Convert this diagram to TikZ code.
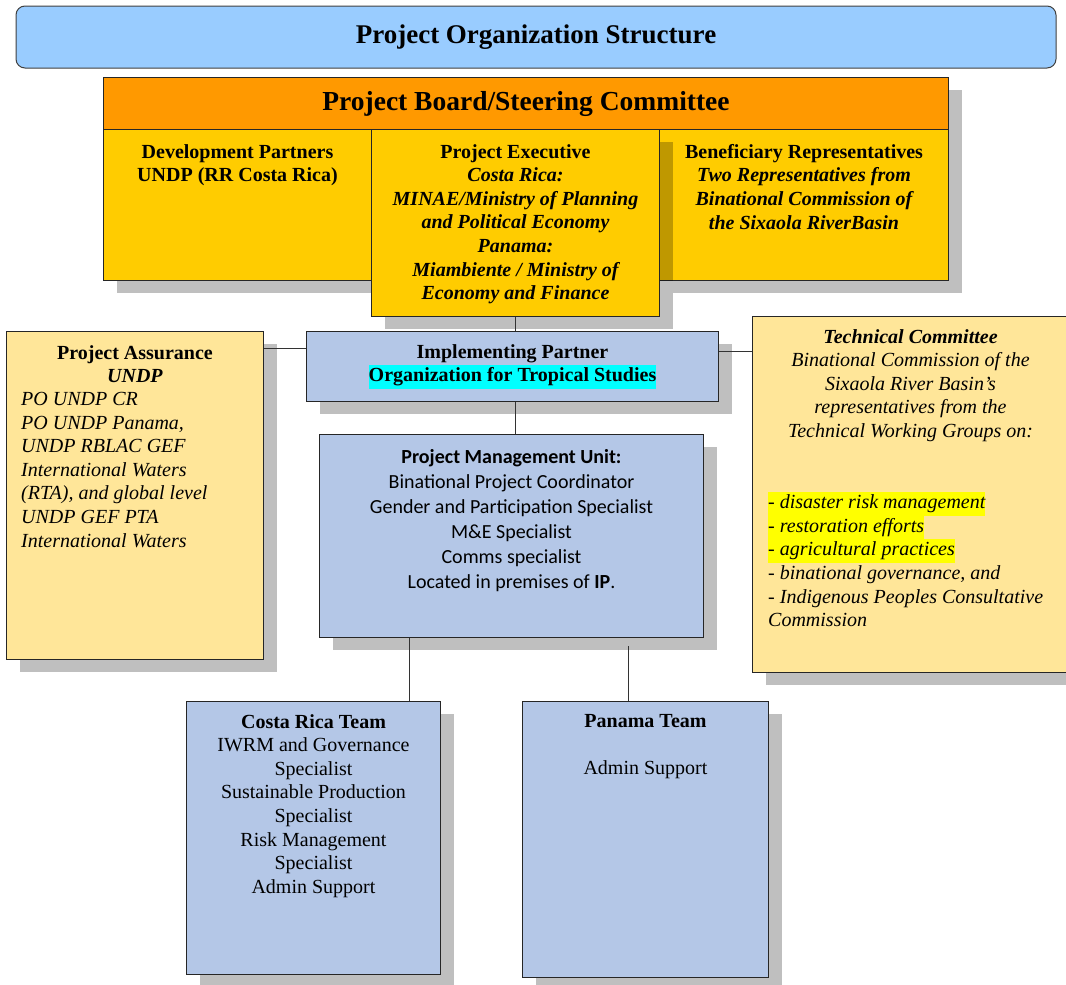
\documentclass[tikz,border=0pt]{standalone}
\usepackage{fontspec}
\setmainfont{Liberation Serif}
\newfontfamily\pmufont{Carlito}
\usetikzlibrary{positioning, shadows}

\definecolor{titleblue}{HTML}{99CCFF}
\definecolor{boardorange}{HTML}{FF9900}
\definecolor{boardyellow}{HTML}{FFCC00}
\definecolor{paleyellow}{HTML}{FFE699}
\definecolor{unitblue}{HTML}{B4C7E7}
\definecolor{hlcyan}{HTML}{00FFFF}
\definecolor{hlyellow}{HTML}{FFFF00}

\newcommand{\bodysize}{\fontsize{20}{23.6}\selectfont}
\newcommand{\hlbox}[2]{{\setlength{\fboxsep}{0pt}\colorbox{#1}{\strut #2}}}

\begin{document}
\begin{tikzpicture}[x=1pt, y=-1pt,
    box/.style={draw=black!85, line width=1pt, inner sep=0pt, anchor=north west,
        drop shadow={fill=black, opacity=0.25, shadow xshift=13pt, shadow yshift=-12pt}},
    txt/.style={align=center, inner sep=0pt, font=\bodysize},
    link/.style={draw=black!80, line width=1pt}]

\useasboundingbox (0,0) rectangle (1066,985);

% title and board
\node[draw=black!75, line width=1pt, rounded corners=9pt, fill=titleblue,
    minimum width=1040, minimum height=62,
    font=\fontsize{27}{30}\selectfont\bfseries] (title) at (536,37) {Project Organization Structure};
\node[box, fill=boardorange, minimum width=845, minimum height=52,
    font=\fontsize{27.5}{30}\selectfont\bfseries] (board) at (103,77) {Project Board/Steering Committee};
\node[box, fill=boardyellow, minimum width=268, minimum height=151] (dev) at (103,129) {};
\node[box, fill=boardyellow, minimum width=289, minimum height=151] (benef) at (659,129) {};
\node[box, fill=boardyellow, minimum width=288, minimum height=187] (exec) at (371,129) {};

\node[txt, font=\bodysize\bfseries, below=15pt of dev.north] (devtxt) {
    Development Partners\\
    UNDP (RR Costa Rica)
};
\node[txt, font=\bodysize\bfseries\itshape, below=15pt of exec.north] (exectxt) {
    {\upshape Project Executive}\\
    Costa Rica:\\
    MINAE/Ministry of Planning\\
    and Political Economy\\
    Panama:\\
    Miambiente / Ministry of\\
    Economy and Finance
};
\node[txt, font=\bodysize\bfseries\itshape, below=15pt of benef.north] (beneftxt) {
    {\upshape Beneficiary Representatives}\\
    Two Representatives from\\
    Binational Commission of\\
    the Sixaola RiverBasin
};

% middle row
\node[box, fill=unitblue, minimum width=412, minimum height=70,
    align=center, font=\bodysize\bfseries] (ip) at (306,331) {
    Implementing Partner\\
    \hlbox{hlcyan}{Organization for Tropical Studies}
};
\node[box, fill=paleyellow, minimum width=257, minimum height=328] (pa) at (6,331) {};
\node[txt, font=\bodysize\bfseries, below=14pt of pa.north] (pahead) {
    Project Assurance\\
    \textit{UNDP}
};
\node[txt, align=left, font=\bodysize\itshape, anchor=north west] (palist)
    at ([xshift=15pt, yshift=-61pt]pa.north west) {
    PO UNDP CR\\
    PO UNDP Panama,\\
    UNDP RBLAC GEF\\
    International Waters\\
    (RTA), and global level\\
    UNDP GEF PTA\\
    International Waters
};
\node[box, fill=paleyellow, minimum width=316, minimum height=356] (tc) at (752,316) {};
\node[txt, font=\bodysize\itshape, below=13pt of tc.north] (tchead) {
    \textbf{Technical Committee}\\
    Binational Commission of the\\
    Sixaola River Basin's\\
    representatives from the\\
    Technical Working Groups on:
};
\node[txt, align=left, font=\bodysize\itshape, anchor=north west] (tclist)
    at ([xshift=16pt, yshift=-176pt]tc.north west) {
    \hlbox{hlyellow}{- disaster risk management}\\
    \hlbox{hlyellow}{- restoration efforts}\\
    \hlbox{hlyellow}{- agricultural practices}\\
    - binational governance, and\\
    - Indigenous Peoples Consultative\\
    Commission
};

% project management unit
\node[box, fill=unitblue, minimum width=384, minimum height=203] (pmu) at (319,434) {};
\node[txt, font=\pmufont\fontsize{20}{25}\selectfont, below=15pt of pmu.north] (pmutxt) {
    \textbf{Project Management Unit:}\\
    Binational Project Coordinator\\
    Gender and Participation Specialist\\
    M\&E Specialist\\
    Comms specialist\\
    Located in premises of \textbf{IP}.
};

% teams
\node[box, fill=unitblue, minimum width=254, minimum height=273] (cr) at (186,701) {};
\node[txt, below=13pt of cr.north] (crtxt) {
    \textbf{Costa Rica Team}\\
    IWRM and Governance\\
    Specialist\\
    Sustainable Production\\
    Specialist\\
    Risk Management\\
    Specialist\\
    Admin Support
};
\node[box, fill=unitblue, minimum width=246, minimum height=276] (pan) at (522,701) {};
\node[txt, below=13pt of pan.north] (pantxt) {
    \textbf{Panama Team}\\[23.6pt]
    Admin Support
};

% connectors
\draw[link] (exec.south) -- (exec.south |- ip.north);
\draw[link] (exec.south |- ip.south) -- (exec.south |- pmu.north);
\draw[link] ([yshift=-17pt]ip.north west) -- ([yshift=-17pt]ip.north west -| pa.east);
\draw[link] ([yshift=-20pt]ip.north east) -- ([yshift=-20pt]ip.north east -| tc.west);
\coordinate (crtop) at ([xshift=96pt]cr.north);
\draw[link] (crtop) -- (crtop |- pmu.south);
\coordinate (pantop) at ([xshift=-17pt]pan.north);
\draw[link] (pantop) -- ([yshift=-8pt]pantop |- pmu.south);
\end{tikzpicture}
\end{document}
